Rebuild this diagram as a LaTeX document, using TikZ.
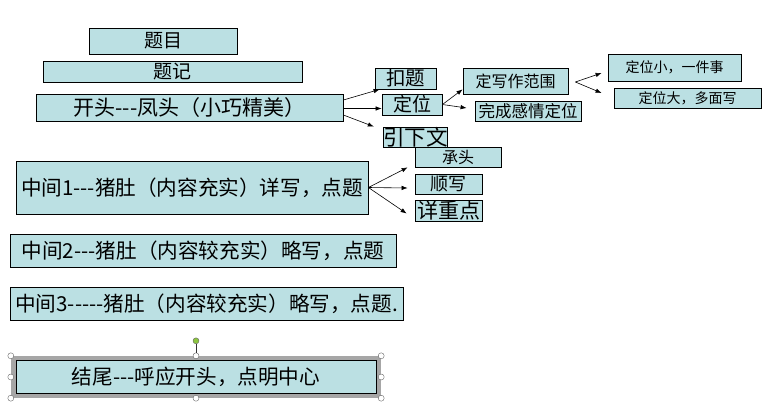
\documentclass[tikz,border=0pt]{standalone}
\usepackage{fontspec}
\usepackage{xcolor}
\newfontfamily\cjk{Noto Sans CJK SC}
\usetikzlibrary{arrows.meta}
\definecolor{boxfill}{HTML}{BBE0E3}
\definecolor{rotgreen}{HTML}{8CC63F}
\tikzset{
  bx/.style={draw=black,fill=boxfill,line width=0.8pt,inner sep=0pt},
  arr/.style={-{Latex[length=6pt,width=4.5pt]},line width=0.6pt},
  hdl/.style={circle,draw=black!60,fill=white,inner sep=0pt,minimum size=6pt},
  selframe/.style={fill=black!35,inner sep=0pt}
}
\begin{document}
\begin{tikzpicture}[x=1pt,y=-1pt]
  \useasboundingbox (0,0) rectangle (783,402);
  % selection frame round the last box
  \node[selframe,minimum width=370,minimum height=42] (sel) at (196,377) {};
  \foreach \an/\k in {north west/1,north/2,north east/3,west/4,east/5,south west/6,south/7,south east/8}
    \node[hdl] (h\k) at (sel.\an) {};
  \node[hdl,fill=rotgreen] (rot) at ([yshift=15pt]sel.north) {};
  \draw[black!80] (rot) -- (h2);
  % boxes: name/left/top/right/bottom/size/text
  \foreach \n/\xa/\ya/\xb/\yb/\fs/\lab in {%
    timu/89/28/237/54/19/{题目},
    tiji/43/61/302/82/19/{题记},
    kaitou/36/94/343/121/21/{开头---凤头（小巧精美）},
    kouti/375/68/436/89/19.5/{扣题},
    dingwei/382/94/442/115/19/{定位},
    yinxia/384/127/447/147/21.5/{引下文},
    dingxie/463/68/568/94/16/{定写作范围},
    wancheng/475/101/581/121/16.5/{完成感情定位},
    dwx/608/54/741/81/14/{定位小，一件事},
    dwd/614/88/761/108/14/{定位大，多面写},
    chengtou/415/147/501/167/16/{承头},
    shunxie/415/174/482/194/18/{顺写},
    xiangzhong/415/200/482/221/21/{详重点},
    zj1/16/161/368/214/20.6/{中间1---猪肚（内容充实）详写，点题},
    zj2/10/234/396/267/20.6/{中间2---猪肚（内容较充实）略写，点题},
    zj3/10/287/403/320/20.6/{中间3-----猪肚（内容较充实）略写，点题.},
    jiewei/16/360/376/393/20.6/{结尾---呼应开头，点明中心}}{
      \node[bx,font=\cjk\fontsize{\fs}{\fs}\selectfont,
        minimum width={(\xb-\xa)*1pt},minimum height={(\yb-\ya)*1pt}]
        (\n) at ({(\xa+\xb)/2},{(\ya+\yb)/2}) {\lab};
  }
  % arrows
  \draw[arr] ([yshift=7.5pt]kaitou.east) -- ([xshift=5pt]kouti.south west);
  \draw[arr] ([yshift=-1pt]kaitou.east) -- ([yshift=-4pt]dingwei.west);
  \draw[arr] ([yshift=-7.5pt]kaitou.east) -- ([xshift=-9pt]yinxia.north west);
  \draw[arr] (dingwei.east) -- ([yshift=5pt]dingxie.south west);
  \draw[arr] (dingwei.east) -- ([xshift=-8pt,yshift=3pt]wancheng.west);
  \draw[arr] ([xshift=7pt,yshift=-1pt]dingxie.east) -- ([xshift=-6pt,yshift=-5.5pt]dwx.west);
  \draw[arr] ([xshift=7pt,yshift=-1pt]dingxie.east) -- ([xshift=-12pt,yshift=5pt]dwd.west);
  \draw[arr] (zj1.east) -- ([xshift=-7pt]chengtou.south west);
  \draw[arr] (zj1.east) -- ([xshift=-7pt,yshift=-4pt]shunxie.west);
  \draw[arr] (zj1.east) -- ([xshift=-8pt,yshift=-3pt]xiangzhong.west);
\end{tikzpicture}
\end{document}
